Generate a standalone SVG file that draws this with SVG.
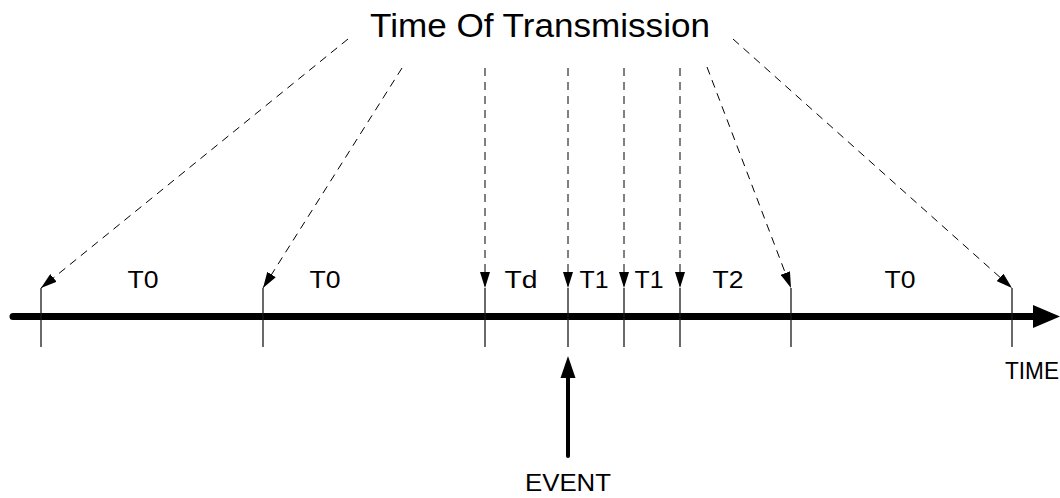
<svg xmlns="http://www.w3.org/2000/svg" width="1060" height="498" viewBox="0 0 1060 498">
<defs>
<marker id="ah" markerWidth="16" markerHeight="10" refX="16" refY="5" orient="auto" markerUnits="userSpaceOnUse">
<path d="M0,0 L16,5 L0,10 Z" fill="#000"/>
</marker>
<style>
.lbl{font-family:"Liberation Sans",Arial,sans-serif;fill:#000;text-anchor:middle}
.tl{font-size:23px}
.tick{stroke:#1a1a1a;stroke-width:1.3;fill:none}
.dash{stroke:#000;stroke-width:1;stroke-dasharray:8,6;fill:none;marker-end:url(#ah)}
</style>
</defs>
<rect width="1060" height="498" fill="#fff"/>
<g id="title"><text class="lbl" x="540" y="37" font-size="33" textLength="340" lengthAdjust="spacingAndGlyphs">Time Of Transmission</text></g>
<g id="axis">
<line x1="13" y1="316.5" x2="1036" y2="316.5" stroke="#000" stroke-width="7" stroke-linecap="round"/>
<path d="M1033,305 L1060,316.5 L1033,328 Z" fill="#000"/>
<text class="lbl" x="1032" y="379" font-size="23" textLength="54" lengthAdjust="spacingAndGlyphs">TIME</text>
</g>
<g id="ticks">
<line class="tick" x1="41" y1="288" x2="41" y2="347"/>
<line class="tick" x1="263" y1="288" x2="263" y2="347"/>
<line class="tick" x1="485" y1="288" x2="485" y2="347"/>
<line class="tick" x1="568" y1="288" x2="568" y2="347"/>
<line class="tick" x1="624" y1="288" x2="624" y2="347"/>
<line class="tick" x1="680" y1="288" x2="680" y2="347"/>
<line class="tick" x1="791" y1="288" x2="791" y2="347"/>
<line class="tick" x1="1012" y1="288" x2="1012" y2="347"/>
</g>
<g id="labels">
<text class="lbl tl" x="143" y="288" textLength="31" lengthAdjust="spacingAndGlyphs">T0</text>
<text class="lbl tl" x="325" y="288" textLength="31" lengthAdjust="spacingAndGlyphs">T0</text>
<text class="lbl tl" x="521" y="288" textLength="33" lengthAdjust="spacingAndGlyphs">Td</text>
<text class="lbl tl" x="594" y="288" textLength="29" lengthAdjust="spacingAndGlyphs">T1</text>
<text class="lbl tl" x="649" y="288" textLength="29" lengthAdjust="spacingAndGlyphs">T1</text>
<text class="lbl tl" x="728" y="288" textLength="31" lengthAdjust="spacingAndGlyphs">T2</text>
<text class="lbl tl" x="900" y="288" textLength="31" lengthAdjust="spacingAndGlyphs">T0</text>
</g>
<g id="connectors">
<line class="dash" x1="348" y1="39" x2="41" y2="288"/>
<line class="dash" x1="402" y1="68" x2="263" y2="288"/>
<line class="dash" x1="485" y1="68" x2="485" y2="288"/>
<line class="dash" x1="568" y1="68" x2="568" y2="288"/>
<line class="dash" x1="624" y1="68" x2="624" y2="288"/>
<line class="dash" x1="680" y1="68" x2="680" y2="288"/>
<line class="dash" x1="707" y1="67" x2="791" y2="288"/>
<line class="dash" x1="733" y1="39" x2="1012" y2="288"/>
</g>
<g id="event">
<line x1="568" y1="456" x2="568" y2="376" stroke="#000" stroke-width="4" stroke-linecap="round"/>
<path d="M560.5,378 L568,356 L575.5,378 Z" fill="#000"/>
<text class="lbl" x="568" y="491" font-size="24" textLength="86" lengthAdjust="spacingAndGlyphs">EVENT</text>
</g>
</svg>
